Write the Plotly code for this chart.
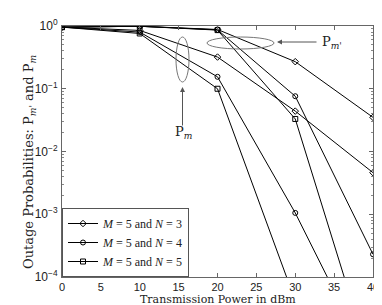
import plotly.graph_objects as go

power_dbm = [0, 10, 20, 30, 40]

# P_m' (upper group)
pmp_n3 = [0.96, 0.99, 0.88, 0.27, 0.035]
pmp_n4 = [0.96, 0.99, 0.87, 0.076, 2.3e-4]
pmp_n5 = [0.96, 0.99, 0.86, 0.033, 3.3e-6]
# P_m (lower group)
pm_n3 = [0.96, 0.85, 0.32, 0.044, 0.0046]
pm_n4 = [0.96, 0.80, 0.155, 1.05e-3, 3.5e-6]
pm_n5 = [0.96, 0.76, 0.10, 4.2e-5, 1.5e-8]

legend_names = ["<i>M</i> = 5 and <i>N</i> = 3",
                "<i>M</i> = 5 and <i>N</i> = 4",
                "<i>M</i> = 5 and <i>N</i> = 5"]
symbols = ["diamond-open", "circle-open", "square-open"]

x_ticks = [0, 5, 10, 15, 20, 25, 30, 35, 40]
y_tickvals = [1e-4, 1e-3, 1e-2, 1e-1, 1]
y_ticktext = ["10<sup>−4</sup>", "10<sup>−3</sup>", "10<sup>−2</sup>",
              "10<sup>−1</sup>", "10<sup>0</sup>"]

SERIF = "DejaVu Serif"
LSERIF = "Liberation Serif"
SANS = "Liberation Sans"

fig = go.Figure()
for i, ys in enumerate([pmp_n3, pmp_n4, pmp_n5]):
    fig.add_trace(go.Scatter(x=power_dbm, y=ys, mode="lines+markers",
                             name=legend_names[i],
                             line=dict(color="black", width=1),
                             marker=dict(symbol=symbols[i], size=5, color="black",
                                         line=dict(width=1, color="black"))))
for i, ys in enumerate([pm_n3, pm_n4, pm_n5]):
    fig.add_trace(go.Scatter(x=power_dbm, y=ys, mode="lines+markers",
                             name=legend_names[i], showlegend=False,
                             line=dict(color="black", width=1),
                             marker=dict(symbol=symbols[i], size=5, color="black",
                                         line=dict(width=1, color="black"))))

# page body has an 8px default margin: shift the figure so that the
# plot area lands on the reference window pixels
OFF = 8
L, R, T, B = 62, 373, 26, 277
W, H = R - L, B - T
def px(x): return (x - L) / W
def py(y): return (B - y) / H

gray = "#777777"
fig.add_shape(type="circle", xref="paper", yref="paper",
              x0=px(207), x1=px(274), y0=py(49), y1=py(37),
              line=dict(color=gray, width=1))
fig.add_shape(type="circle", xref="paper", yref="paper",
              x0=px(176), x1=px(189), y0=py(82), y1=py(37),
              line=dict(color=gray, width=1))

fig.add_annotation(xref="paper", yref="paper", x=px(277), y=py(42), text="",
                   showarrow=True, ax=41, ay=0, arrowhead=2, arrowsize=1,
                   arrowwidth=1, arrowcolor="#555555")
fig.add_annotation(xref="paper", yref="paper", x=px(182.5), y=py(87), text="",
                   showarrow=True, ax=0, ay=40, arrowhead=2, arrowsize=1,
                   arrowwidth=1, arrowcolor="#555555")
fig.add_annotation(xref="paper", yref="paper", x=px(320), y=py(42),
                   text="P<sub><i>m'</i></sub>", showarrow=False,
                   xanchor="left", yanchor="middle",
                   font=dict(family=SERIF, size=13, color="#222"))
fig.add_annotation(xref="paper", yref="paper", x=px(183), y=py(133),
                   text="P<sub><i>m</i></sub>", showarrow=False,
                   xanchor="center", yanchor="middle",
                   font=dict(family=SERIF, size=13, color="#222"))
# axis titles
fig.add_annotation(xref="paper", yref="paper", x=0.5, y=py(299),
                   text="Transmission Power in dBm", showarrow=False,
                   xanchor="center", yanchor="middle",
                   font=dict(family=SERIF, size=11, color="#222"))
fig.add_annotation(xref="paper", yref="paper", x=px(29), y=py(162),
                   text="Outage Probabilities: P<sub><i>m'</i></sub> and P<sub><i>m</i></sub>",
                   showarrow=False, textangle=-90,
                   xanchor="center", yanchor="middle",
                   font=dict(family=SERIF, size=13, color="#222"))

axis_common = dict(showline=True, linecolor="#666666", linewidth=1, mirror="ticks",
                   ticks="inside", tickcolor="#666666", ticklen=4,
                   showgrid=False, zeroline=False, automargin=False,
                   tickfont=dict(family=SANS, size=12, color="#222"))

fig.update_xaxes(range=[0, 40], tickvals=x_ticks, ticklabelstandoff=0, **axis_common)
fig.update_xaxes(tickfont=dict(size=11))
fig.update_yaxes(type="log", range=[-4, 0], tickvals=y_tickvals, ticktext=y_ticktext,
                 ticklabelstandoff=1,
                 minor=dict(ticks="inside", ticklen=2, tickcolor="#888888",
                            dtick="D1", showgrid=False),
                 **axis_common)

fig.update_layout(width=382 - OFF, height=305 - OFF,
                  margin=dict(l=L - OFF, r=382 - R, t=T - OFF, b=305 - B),
                  paper_bgcolor="white", plot_bgcolor="white",
                  legend=dict(x=0, y=0, xanchor="left", yanchor="bottom",
                              bgcolor="white", bordercolor="#555555", borderwidth=1,
                              tracegroupgap=0, entrywidth=115,
                              font=dict(family=LSERIF, size=12, color="#222")))

fig.write_html("out.html")
